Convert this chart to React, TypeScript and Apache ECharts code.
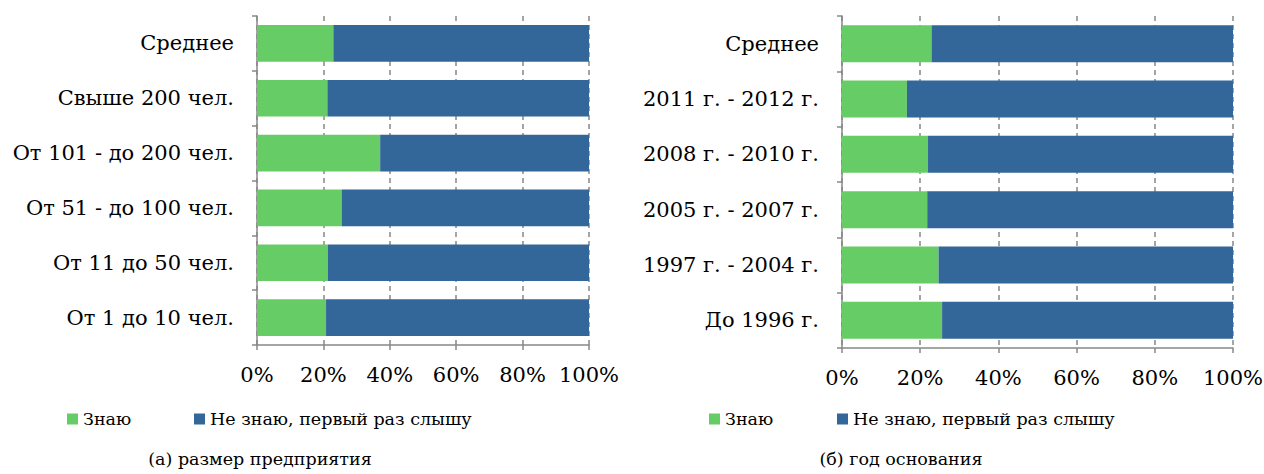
import React, { useEffect, useRef } from "react";
import * as echarts from "echarts";

const sizeCategories = ["От 1 до 10 чел.", "От 11 до 50 чел.", "От 51 - до 100 чел.", "От 101 - до 200 чел.", "Свыше 200 чел.", "Среднее"];
const sizeKnow = [20.8, 21.3, 25.5, 37.1, 21.2, 23.0];
const sizeDontKnow = [79.2, 78.7, 74.5, 62.9, 78.8, 77.0];

const yearCategories = ["До 1996 г.", "1997 г. - 2004 г.", "2005 г. - 2007 г.", "2008 г. - 2010 г.", "2011 г. - 2012 г.", "Среднее"];
const yearKnow = [25.6, 24.7, 21.8, 22.0, 16.6, 22.9];
const yearDontKnow = [74.4, 75.3, 78.2, 78.0, 83.4, 77.1];

const seriesNames = ["Знаю", "Не знаю, первый раз слышу"];
const xTicks = [0, 20, 40, 60, 80, 100];
const captions = ["(а) размер предприятия", "(б) год основания"];

const GREEN = "#66CC66";
const BLUE = "#336699";
const FONT = "DejaVu Serif";
const FS = 21;
const FS_SMALL = 17.5;

export default function App() {
  const ref = useRef<HTMLDivElement>(null);
  useEffect(() => {
    document.body.style.margin = "0";
    const chart = echarts.init(ref.current!, undefined, { renderer: "svg" });
    const axisColor = "#888888";
    const xAxisBase = (gridIndex: number) => ({
      type: "value",
      gridIndex,
      min: xTicks[0],
      max: xTicks[xTicks.length - 1],
      interval: 20,
      axisLine: { show: true, lineStyle: { color: axisColor, width: 1.5 } },
      axisTick: { show: true, length: 5, lineStyle: { color: axisColor, width: 1.5 } },
      splitLine: { show: true, lineStyle: { color: axisColor, type: [5, 4], width: 1.5 } },
      axisLabel: { formatter: "{value}%", color: "#000", fontFamily: FONT, fontSize: FS, margin: 19 },
    });
    const yAxisBase = (gridIndex: number, data: string[]) => ({
      type: "category",
      gridIndex,
      data,
      axisLine: { show: true, lineStyle: { color: axisColor, width: 1.5 } },
      axisTick: { show: true, length: 5, lineStyle: { color: axisColor, width: 1.5 } },
      splitLine: { show: false },
      axisLabel: { color: "#000", fontFamily: FONT, fontSize: FS, margin: 23 },
    });
    const barSeries = (name: string, data: number[], color: string, idx: number) => ({
      type: "bar",
      name,
      stack: "s" + idx,
      xAxisIndex: idx,
      yAxisIndex: idx,
      data,
      barCategoryGap: "33%",
      itemStyle: { color },
    });
    const legendItem = (left: number, name: string) => ({
      left,
      top: 405,
      icon: "rect",
      itemWidth: 11,
      itemHeight: 11,
      data: [name],
      textStyle: { color: "#000", fontFamily: FONT, fontSize: FS_SMALL },
      selectedMode: false,
    });
    chart.setOption({
      animation: false,
      grid: [
        { left: 257, top: 16, width: 332, height: 329, outerBoundsMode: "none", containLabel: false },
        { left: 842, top: 16, width: 391, height: 332, outerBoundsMode: "none", containLabel: false },
      ],
      xAxis: [xAxisBase(0), xAxisBase(1)],
      yAxis: [yAxisBase(0, sizeCategories), yAxisBase(1, yearCategories)],
      legend: [
        legendItem(62, seriesNames[0]),
        legendItem(189, seriesNames[1]),
        legendItem(704, seriesNames[0]),
        legendItem(832, seriesNames[1]),
      ],
      series: [
        barSeries(seriesNames[0], sizeKnow, GREEN, 0),
        barSeries(seriesNames[1], sizeDontKnow, BLUE, 0),
        barSeries(seriesNames[0], yearKnow, GREEN, 1),
        barSeries(seriesNames[1], yearDontKnow, BLUE, 1),
      ],
      graphic: [
        { type: "text", x: 260, y: 459, style: { text: captions[0], fill: "#000", fontFamily: FONT, fontSize: FS_SMALL, textAlign: "center", textVerticalAlign: "middle" } },
        { type: "text", x: 901, y: 459, style: { text: captions[1], fill: "#000", fontFamily: FONT, fontSize: FS_SMALL, textAlign: "center", textVerticalAlign: "middle" } },
      ],
    });
    return () => chart.dispose();
  }, []);
  return <div ref={ref} style={{ width: 1264, height: 474 }} />;
}
